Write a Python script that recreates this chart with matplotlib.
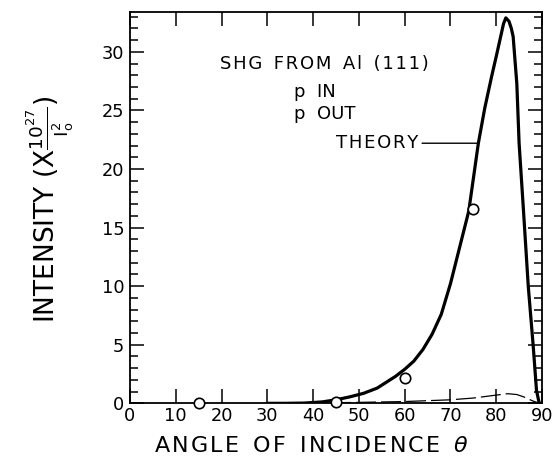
import matplotlib

matplotlib.use("Agg")
import matplotlib.pyplot as plt
from matplotlib.ticker import MultipleLocator

plt.rcParams["font.family"] = ["DejaVu Sans"]
plt.rcParams["mathtext.fontset"] = "dejavusans"
plt.rcParams["mathtext.default"] = "regular"

# theory curve (p in / p out)
theory_angle = [30, 34, 38, 42, 45, 48, 51, 54, 56, 58, 60, 62, 64, 66, 68, 70,
                72, 74, 76.1, 77.5, 79, 80, 80.8, 81.6, 82.1, 82.8, 83.3, 83.7,
                84.5, 85.0, 85.9, 87.0, 88.1, 88.8, 89.4, 90]
theory_intensity = [0, 0, 0.02, 0.12, 0.3, 0.55, 0.85, 1.3, 1.8, 2.3, 2.9, 3.6, 4.6, 5.9, 7.6, 10.2,
                    13.3, 16.4, 22.2, 25.2, 27.9, 29.6, 31.0, 32.4, 32.9, 32.6, 32.0, 31.3,
                    27.3, 22.2, 16.8, 10.0, 4.8, 1.1, 0, 0]

# dashed curve near the baseline
dashed_angle = [33, 40, 50, 60, 70, 75, 80, 82.5, 84.5, 86, 88, 89.5, 90]
dashed_intensity = [0, 0.02, 0.08, 0.15, 0.3, 0.45, 0.7, 0.82, 0.75, 0.55, 0.2, 0, 0]

# measured points
meas_angle = [15, 45, 60, 75]
meas_intensity = [0.05, 0.15, 2.2, 16.6]

x_ticks = [0, 10, 20, 30, 40, 50, 60, 70, 80, 90]
y_ticks = [0, 5, 10, 15, 20, 25, 30]


def spaced(text, gap="\u200a"):
    # loose letter spacing like the hand lettering
    return "  ".join(gap.join(word) for word in text.split(" "))


fig = plt.figure(figsize=(5.56, 4.58), dpi=100)
ax = fig.add_axes([0.2338, 0.1194, 0.741, 0.8544])

ax.plot(theory_angle, theory_intensity, color="black", lw=2.3, solid_capstyle="round",
        solid_joinstyle="round", zorder=3)
ax.plot(dashed_angle, dashed_intensity, color="black", lw=0.9, dashes=(16, 4), zorder=2)
ax.plot(meas_angle, meas_intensity, "o", ms=7.5, mfc="white", mec="black", mew=1.2,
        clip_on=False, zorder=4)

ax.set_xlim(0, 90)
ax.set_ylim(0, 33.4)
ax.set_xticks(x_ticks)
ax.set_yticks(y_ticks)
ax.yaxis.set_minor_locator(MultipleLocator(1))
ax.tick_params(axis="both", which="both", direction="in", labelsize=12.8, width=1.1)
ax.tick_params(axis="y", which="major", length=10, right=True, pad=4)
ax.tick_params(axis="y", which="minor", length=6, right=True)
ax.tick_params(axis="x", which="major", length=10, top=True, pad=3)
for spine in ax.spines.values():
    spine.set_linewidth(1.3)

fig.text(0.56, 0.0135, spaced("ANGLE OF INCIDENCE") + r"  $\mathit{\theta}$", fontsize=16,
         ha="center", va="baseline")
fig.text(0.091, 0.544,
         r"INTENSITY (X$\frac{10^{27}}{I_{o}^{2}}$)",
         rotation=90, fontsize=19, ha="center", va="center")

ax.text(42.5, 29.0, spaced("SHG FROM Al (111)"), fontsize=13, ha="center", va="center")
ax.text(35.8, 26.6, "p  IN", fontsize=13, ha="left", va="center")
ax.text(35.8, 24.7, "p  OUT", fontsize=13, ha="left", va="center")
ax.annotate(spaced("THEORY"), xy=(75.9, 22.2), xytext=(62.9, 22.2), fontsize=13,
            ha="right", va="center",
            arrowprops=dict(arrowstyle="-", lw=1.0, color="black", shrinkA=1, shrinkB=0))

fig.savefig("out.png", dpi=100)
